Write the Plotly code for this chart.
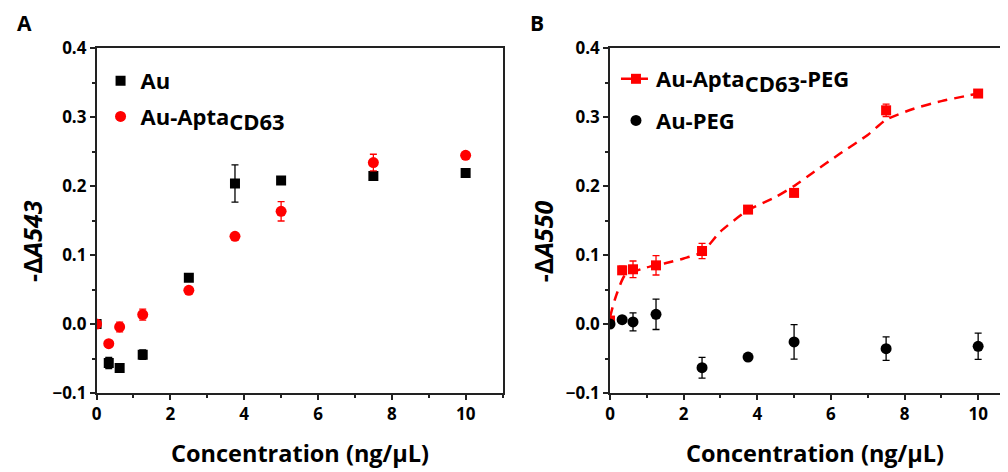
import plotly.graph_objects as go

# ---------------- data ----------------
conc = [0, 0.33, 0.625, 1.25, 2.5, 3.75, 5, 7.5, 10]

# Panel A
au = [0.0, -0.0565, -0.0638, -0.0444, 0.067, 0.2035, 0.208, 0.2145, 0.219]
au_err = [0, 0.008, 0.003, 0.007, 0.003, 0.027, 0.004, 0.003, 0.003]
au_apta = [0.0, -0.0285, -0.0043, 0.0136, 0.0488, 0.127, 0.1633, 0.234, 0.2445]
au_apta_err = [0, 0.003, 0.007, 0.008, 0.003, 0.003, 0.014, 0.012, 0.004]

# Panel B
apta_peg = [0.005, 0.0778, 0.0793, 0.085, 0.1058, 0.1658, 0.19, 0.3097, 0.334]
apta_peg_err = [0, 0.006, 0.012, 0.014, 0.011, 0.004, 0.004, 0.009, 0.004]
au_peg = [0.0, 0.0063, 0.003, 0.014, -0.0633, -0.048, -0.026, -0.0357, -0.0323]
au_peg_err = [0, 0.003, 0.013, 0.022, 0.015, 0.003, 0.025, 0.017, 0.019]

# fitted curve in panel B
fit_x = [0, 0.1, 0.2, 0.4, 1.0, 1.5, 2.0, 2.5, 3.0, 3.75, 4.5, 5.0, 5.5, 6.25, 7.0, 7.5, 8.25, 9.0, 10.0]
fit_y = [0.010, 0.030, 0.046, 0.070, 0.082, 0.088, 0.095, 0.104, 0.134, 0.165, 0.184,
         0.200, 0.219, 0.247, 0.274, 0.296, 0.312, 0.323, 0.334]

x_ticks = [0, 2, 4, 6, 8, 10]
y_ticks = [-0.1, 0.0, 0.1, 0.2, 0.3, 0.4]

FONT = "Open Sans"
RED = "#ff0000"
BLACK = "#000000"
AX = "#222222"

OFF = 8                      # default page body margin
W, H = 1008 - OFF, 472 - OFF
TOP, BOT = 48, 393           # page-pixel top / bottom of plot boxes


def px_x(p):                 # page pixel -> paper x (margins l=r=0)
    return (p - OFF) / W


def px_y(p):                 # page pixel -> paper y
    return (BOT - p) / (BOT - TOP)


def with_gaps(vals, fill=None):
    out = []
    for v in vals:
        out += [v, fill]
    return out


fig = go.Figure()

# ---- Panel A ----
fig.add_trace(go.Scatter(
    x=conc, y=au, mode="markers", name="Au",
    marker=dict(symbol="square", size=10, color=BLACK),
    error_y=dict(type="data", array=au_err, color=BLACK, thickness=1.3, width=3.5),
    xaxis="x", yaxis="y", legend="legend", legendgroup="a1"))
fig.add_trace(go.Scatter(
    x=conc, y=au_apta, mode="markers",
    name="Au-Apta<sub><span style='font-size:22px'>CD63</span></sub>",
    marker=dict(symbol="circle", size=11, color=RED),
    error_y=dict(type="data", array=au_apta_err, color=RED, thickness=1.3, width=3.5),
    xaxis="x", yaxis="y", legend="legend", legendgroup="a2"))

# ---- Panel B ----
fig.add_trace(go.Scatter(
    x=fit_x, y=fit_y, mode="lines", showlegend=False,
    line=dict(color=RED, width=2.5, dash="10px,7px", shape="spline", smoothing=0.6),
    xaxis="x2", yaxis="y2"))
fig.add_trace(go.Scatter(
    x=with_gaps(conc), y=with_gaps(apta_peg), mode="lines+markers",
    connectgaps=False,
    name="Au-Apta<sub><span style='font-size:22px'>CD63</span></sub>-PEG",
    line=dict(color=RED, width=2.5, dash="10px,7px"),
    marker=dict(symbol="square", size=10, color=RED),
    error_y=dict(type="data", array=with_gaps(apta_peg_err, 0), color=RED,
                 thickness=1.3, width=3.5),
    xaxis="x2", yaxis="y2", legend="legend2", legendgroup="b1"))
fig.add_trace(go.Scatter(
    x=conc, y=au_peg, mode="markers", name="Au-PEG",
    marker=dict(symbol="circle", size=11, color=BLACK),
    error_y=dict(type="data", array=au_peg_err, color=BLACK, thickness=1.3, width=3.5),
    xaxis="x2", yaxis="y2", legend="legend2", legendgroup="b2"))

tickfont = dict(family=FONT, size=17, color=BLACK, weight="bold")

xcommon = dict(
    tickvals=x_ticks, ticktext=[str(v) for v in x_ticks],
    ticks="outside", ticklen=5, tickwidth=1.5, tickcolor=AX,
    minor=dict(dtick=1, ticks="outside", ticklen=3, tickwidth=1.5, tickcolor=AX, showgrid=False),
    showline=True, linecolor=AX, linewidth=1.5, mirror=True,
    showgrid=False, zeroline=False, tickfont=tickfont,
)
ycommon = dict(
    range=[-0.1, 0.4], tickvals=y_ticks, tickformat=".1f",
    ticks="outside", ticklen=5, tickwidth=1.5, tickcolor=AX,
    minor=dict(dtick=0.05, ticks="outside", ticklen=3, tickwidth=1.5, tickcolor=AX, showgrid=False),
    showline=True, linecolor=AX, linewidth=1.5,
    showgrid=False, zeroline=False, tickfont=tickfont,
    domain=[0, 1],
)

legend_font = dict(family=FONT, size=22, color=BLACK, weight="bold")

fig.update_layout(
    width=W, height=H, autosize=False,
    margin=dict(l=0, r=0, t=TOP - OFF, b=H - (BOT - OFF), pad=0),
    paper_bgcolor="white", plot_bgcolor="white",
    font=dict(family=FONT, color=BLACK),
    xaxis=dict(xcommon, domain=[px_x(92), px_x(500)], range=[0, 11], anchor="y"),
    yaxis=dict(ycommon, anchor="x", mirror=True),
    xaxis2=dict(xcommon, domain=[px_x(608), 1.0], range=[0, 400 / 37], anchor="y2"),
    yaxis2=dict(ycommon, anchor="x2", mirror=False),
    legend=dict(
        x=px_x(96), y=px_y(60), xanchor="left", yanchor="top",
        bgcolor="rgba(0,0,0,0)", tracegroupgap=4, font=legend_font,
    ),
    legend2=dict(
        x=px_x(614), y=px_y(58), xanchor="left", yanchor="top",
        bgcolor="rgba(0,0,0,0)", tracegroupgap=10, font=legend_font,
    ),
    showlegend=True,
)

title_font = dict(family=FONT, size=23.5, color=BLACK, weight="bold")
ylab_font = dict(family=FONT, size=25, color=BLACK, weight="bold")
panel_font = dict(family=FONT, size=21, color=BLACK, weight="bold")


def ann(text, x, y, font, angle=0):
    return dict(text=text, x=px_x(x), y=px_y(y), xref="paper", yref="paper",
                xanchor="center", yanchor="middle", showarrow=False,
                textangle=angle, font=font)


fig.update_layout(annotations=[
    ann("A", 20, 23, panel_font),
    ann("B", 535, 23, panel_font),
    ann("Concentration (ng/μL)", 296, 453, title_font),
    ann("Concentration (ng/μL)", 814, 453, title_font),
    ann("-Δ<i>A543</i>", 27, 241, ylab_font, -90),
    ann("-Δ<i>A550</i>", 541, 241, ylab_font, -90),
])

fig.write_html("out.html")
